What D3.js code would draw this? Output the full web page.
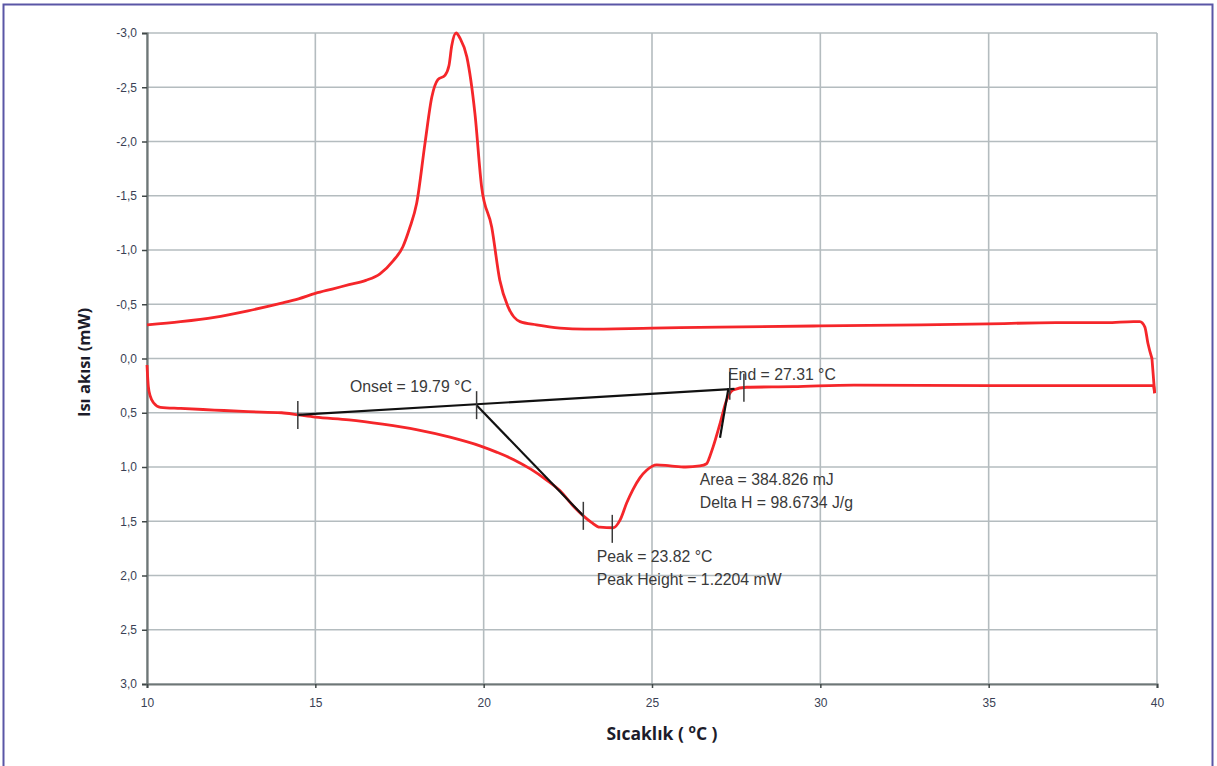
<!DOCTYPE html>
<html><head><meta charset="utf-8">
<script src="https://cdn.jsdelivr.net/npm/d3@7"></script>
<style>
html,body{margin:0;padding:0;background:#fff;}
svg{display:block;}
</style></head>
<body>
<svg id="chart" width="1217" height="766"></svg>
<script>
// ---- data ----
const xTicks = [10, 15, 20, 25, 30, 35, 40];
const yTicks = [-3.0, -2.5, -2.0, -1.5, -1.0, -0.5, 0.0, 0.5, 1.0, 1.5, 2.0, 2.5, 3.0];

// upper (exothermic) curve: temperature (°C) / heat flow (mW)
const upperT = [10.0, 11.0, 12.0, 13.0, 14.0, 14.5, 15.0, 15.5, 16.0, 16.5, 16.92, 17.31, 17.6, 17.8, 18.01, 18.26, 18.46, 18.64, 18.85, 18.97, 19.05, 19.18, 19.30, 19.50, 19.74, 19.94, 20.24, 20.48, 20.72, 21.08, 21.57, 22.27, 23.0, 25.0, 27.0, 30.0, 33.0, 35.0, 37.0, 38.5, 39.3, 39.49, 39.64, 39.73, 39.85, 39.93];
const upperV = [-0.31, -0.34, -0.38, -0.44, -0.51, -0.55, -0.60, -0.64, -0.68, -0.72, -0.78, -0.90, -1.03, -1.20, -1.43, -1.99, -2.41, -2.57, -2.61, -2.70, -2.88, -3.00, -2.95, -2.78, -2.26, -1.58, -1.21, -0.72, -0.48, -0.34, -0.31, -0.28, -0.27, -0.28, -0.29, -0.30, -0.31, -0.32, -0.33, -0.33, -0.34, -0.34, -0.29, -0.14, 0.0, 0.32];

// lower (endothermic) curve
const lowerT = [10.0, 10.04, 10.1, 10.2, 10.4, 11.0, 12.0, 13.0, 14.0, 14.5, 15.0, 16.0, 17.0, 18.0, 19.0, 19.89, 20.4, 20.88, 21.4, 21.87, 22.27, 22.66, 22.96, 23.2, 23.45, 23.85, 24.05, 24.25, 24.43, 24.64, 24.84, 25.14, 25.54, 26.0, 26.42, 26.62, 26.72, 26.82, 27.02, 27.22, 27.41, 27.81, 29.19, 31.0, 35.0, 39.9, 39.93];
const lowerV = [0.06, 0.26, 0.35, 0.41, 0.45, 0.46, 0.475, 0.49, 0.50, 0.52, 0.54, 0.565, 0.605, 0.655, 0.725, 0.805, 0.865, 0.93, 1.02, 1.12, 1.22, 1.36, 1.45, 1.51, 1.555, 1.56, 1.49, 1.33, 1.21, 1.10, 1.03, 0.98, 0.99, 1.00, 0.99, 0.97, 0.90, 0.81, 0.60, 0.38, 0.29, 0.265, 0.26, 0.245, 0.25, 0.25, 0.32];

// analysis construction lines
const baselineT = [14.48, 27.45];
const baselineV = [0.52, 0.28];
const onsetTangentT = [19.79, 22.96];
const onsetTangentV = [0.43, 1.45];
const endTangentT = [27.02, 27.27];
const endTangentV = [0.73, 0.275];

// marker ticks (temperature, heat flow)
const markerT = [14.48, 19.79, 22.96, 23.82, 27.31, 27.73];
const markerV = [0.52, 0.43, 1.45, 1.57, 0.25, 0.27];

// annotations
const annotLines = [
  "Onset = 19.79 °C",
  "End = 27.31 °C",
  "Area = 384.826 mJ",
  "Delta H = 98.6734 J/g",
  "Peak = 23.82 °C",
  "Peak Height = 1.2204 mW"
];
const annotT = [16.03, 27.26, 26.42, 26.42, 23.36, 23.36];
const annotV = [0.31, 0.2, 1.17, 1.38, 1.88, 2.09];

const yTitle = "Isı akısı (mW)";

// ---- drawing ----
const svg = d3.select("#chart");
const W = 1217, H = 766;
const m = {left: 147, right: 60, top: 33, bottom: 82};

const x = d3.scaleLinear().domain([10, 40]).range([m.left, W - m.right]);
const y = d3.scaleLinear().domain([-3, 3]).range([m.top, H - m.bottom]);

// frame
svg.append("rect").attr("x", 3.5).attr("y", 4.5).attr("width", 1209).attr("height", 800)
  .attr("fill", "none").attr("stroke", "#5a56a6").attr("stroke-width", 2);

// grid
const grid = svg.append("g");
grid.selectAll("line.h").data(yTicks).join("line")
  .attr("x1", x(10)).attr("x2", x(40))
  .attr("y1", d => y(d)).attr("y2", d => y(d))
  .attr("stroke", "#b4bcbf").attr("stroke-width", 1.6);
grid.selectAll("line.v").data(xTicks).join("line")
  .attr("y1", y(-3)).attr("y2", y(3))
  .attr("x1", d => x(d)).attr("x2", d => x(d))
  .attr("stroke", "#b4bcbf").attr("stroke-width", 1.6);

const fmt = d => d3.format(".1f")(d).replace(".", ",").replace("−", "-");

// axes
const yAxis = svg.append("g").attr("transform", `translate(${x(10)},0)`)
  .call(d3.axisLeft(y).tickValues(yTicks).tickFormat(fmt).tickSize(5).tickPadding(5));
const xAxis = svg.append("g").attr("transform", `translate(0,${y(3)})`)
  .call(d3.axisBottom(x).tickValues(xTicks).tickFormat(d3.format("d")).tickSize(4).tickPadding(10));
[yAxis, xAxis].forEach(a => {
  a.select(".domain").attr("stroke", "#6e7676").attr("stroke-width", 2.2);
  a.selectAll(".tick line").attr("stroke", "#404848").attr("stroke-width", 1.5);
  a.selectAll(".tick text").attr("fill", "#3a3f55")
    .style("font-family", "'Liberation Sans', Arial, sans-serif").style("font-size", "12px");
});

// curves
const line = d3.line().x(d => x(d[0])).y(d => y(d[1]));
const upper = upperT.map((t, i) => [t, upperV[i]]);
const lower = lowerT.map((t, i) => [t, lowerV[i]]);
const curveLine = d3.line().x(d => x(d[0])).y(d => y(d[1])).curve(d3.curveMonotoneX);
svg.append("path").attr("d", curveLine(upper.slice(0, -1)) + "L" + x(upperT[upperT.length-1]) + "," + y(upperV[upperV.length-1]))
  .attr("fill", "none").attr("stroke", "#f5262a").attr("stroke-width", 2.8).attr("stroke-linejoin", "round");
svg.append("path").attr("d", curveLine(lower.slice(0, -1)) + "L" + x(lowerT[lowerT.length-1]) + "," + y(lowerV[lowerV.length-1]))
  .attr("fill", "none").attr("stroke", "#f5262a").attr("stroke-width", 2.8).attr("stroke-linejoin", "round");

// construction lines
[[baselineT, baselineV], [onsetTangentT, onsetTangentV], [endTangentT, endTangentV]].forEach(([ts, vs]) => {
  svg.append("path").attr("d", line(ts.map((t, i) => [t, vs[i]])))
    .attr("fill", "none").attr("stroke", "#111").attr("stroke-width", 2.2);
});

// marker ticks
svg.append("g").selectAll("line").data(markerT.map((t, i) => [t, markerV[i]])).join("line")
  .attr("x1", d => x(d[0])).attr("x2", d => x(d[0]))
  .attr("y1", d => y(d[1]) - 14).attr("y2", d => y(d[1]) + 14)
  .attr("stroke", "#3a3a3a").attr("stroke-width", 1.5);

// annotations
svg.append("g").selectAll("text").data(annotLines).join("text")
  .attr("x", (d, i) => x(annotT[i])).attr("y", (d, i) => y(annotV[i]))
  .attr("fill", "#3a3a3a")
  .style("font-family", "'Liberation Sans', Arial, sans-serif").style("font-size", "15.8px")
  .text(d => d);

// axis titles
svg.append("text").attr("transform", `translate(90,${(y(-3)+y(3))/2 + 4}) rotate(-90)`)
  .attr("text-anchor", "middle").attr("fill", "#1c1c2a")
  .style("font-family", "'Open Sans', sans-serif").style("font-weight", "bold").style("font-size", "16.5px")
  .text(yTitle);

const xt = svg.append("text").attr("x", (x(10)+x(40))/2 + 10).attr("y", 740)
  .attr("text-anchor", "middle").attr("fill", "#1c1c2a")
  .style("font-family", "'Open Sans', sans-serif").style("font-weight", "bold").style("font-size", "17.5px");
xt.append("tspan").text("Sıcaklık  ( ");
xt.append("tspan").attr("dy", -7).style("font-size", "12px").text("o");
xt.append("tspan").attr("dy", 7).text("C )");
</script>
</body></html>
